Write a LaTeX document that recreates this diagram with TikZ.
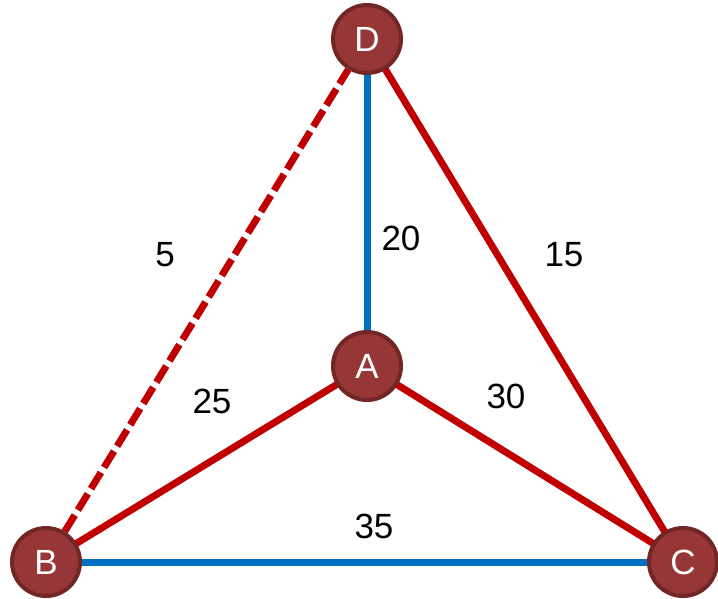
\documentclass[tikz,border=0pt]{standalone}
\usepackage{fontspec}
\setmainfont{Liberation Sans}
\usetikzlibrary{backgrounds}
\definecolor{nodefill}{RGB}{150,54,54}
\definecolor{nodeborder}{RGB}{114,38,38}
\definecolor{edgered}{RGB}{192,0,0}
\definecolor{edgeblue}{RGB}{0,112,192}
\tikzset{
  vert/.style={circle, fill=nodefill, draw=nodeborder, line width=4pt, minimum size=68pt, inner sep=0pt, text=white, font=\fontsize{35}{40}\selectfont},
  redge/.style={draw=edgered, line width=7pt},
  bedge/.style={draw=edgeblue, line width=7pt},
  dedge/.style={draw=edgered, line width=7pt, dash pattern=on 19pt off 6pt},
  wlabel/.style={font=\fontsize{35}{40}\selectfont, text=black, inner sep=0pt}
}
\begin{document}
\begin{tikzpicture}[x=1pt,y=-1pt]
\useasboundingbox (0,0) rectangle (718,599);
% nodes
\node[vert] (D) at (367,39) {D};
\node[vert] (A) at (367,366) {A};
\node[vert] (B) at (46,562) {B};
\node[vert] (C) at (683,562) {C};
% edges
\begin{scope}[on background layer]
\draw[bedge] (D.center) -- (A.center);
\draw[redge] (D.center) -- (C.center);
\draw[redge] (A.center) -- (B.center);
\draw[redge] (A.center) -- (C.center);
\draw[bedge] (B.center) -- (C.center);
\draw[dedge] (B) -- (D);
\end{scope}
% labels
\node[wlabel] (l5) at (165,255) {5};
\node[wlabel] (l25) at (212,401) {25};
\node[wlabel] (l20) at (401,238) {20};
\node[wlabel] (l15) at (564,255) {15};
\node[wlabel] (l30) at (506,396) {30};
\node[wlabel] (l35) at (374,526) {35};
\end{tikzpicture}
\end{document}
